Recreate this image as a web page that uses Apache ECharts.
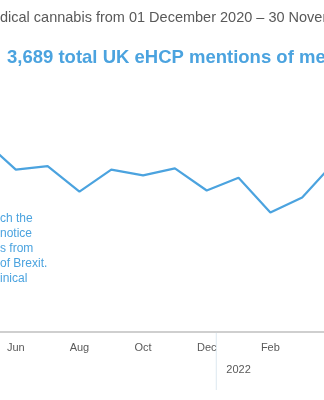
<!DOCTYPE html>
<html>
<head>
<meta charset="utf-8">
<script src="https://cdn.jsdelivr.net/npm/echarts@6/dist/echarts.min.js"></script>
<style>
  html, body { margin: 0; padding: 0; background: #ffffff; }
  #chart { width: 324px; height: 400px; }
</style>
</head>
<body>
<div id="chart"></div>
<script>
// Monthly UK eHCP mentions of medical cannabis (May 2021 – Apr 2022)
const months = ['May', 'Jun', 'Jul', 'Aug', 'Sep', 'Oct', 'Nov', 'Dec', 'Jan', 'Feb', 'Mar', 'Apr'];
const mentions = [165, 140, 143, 121, 140, 135, 141, 122, 133, 103, 116, 146];
const shownMonths = ['Jun', 'Aug', 'Oct', 'Dec', 'Feb'];
const yearLabel = '2022';
const yearStartIndex = 8;      // first month of 2022 in `months`
const yearBoundaryFrac = 0.3;  // divider sits this far from Dec towards Jan

const subtitle = 'dical cannabis from 01 December 2020 \u2013 30 November 2022';
const headline = '3,689 total UK eHCP mentions of medical cannabis';
const noteLines = ['ch the', 'notice', 's from', 'of Brexit.', 'inical'];

const BLUE = '#4ba3df';
const GREY_TEXT = '#595959';
const chart = echarts.init(document.getElementById('chart'), null, { renderer: 'canvas' });

chart.setOption({
  animation: false,
  grid: { left: -16, right: -10, top: 100, bottom: 68, containLabel: false, outerBoundsMode: 'none' },
  xAxis: {
    type: 'category',
    data: months,
    boundaryGap: false,
    axisLine: { lineStyle: { color: '#bfbfbf', width: 1.5 } },
    axisTick: { show: false },
    axisLabel: {
      interval: (i, v) => shownMonths.includes(v),
      color: GREY_TEXT,
      fontFamily: 'Liberation Sans',
      fontSize: 11,
      margin: 10
    }
  },
  yAxis: { type: 'value', min: 0, max: 200, show: false },
  series: [{
    type: 'line',
    data: mentions,
    symbol: 'none',
    lineStyle: { color: BLUE, width: 2.2 },
    clip: false
  }],
  graphic: [
    { id: 'subtitle', type: 'text', left: 0, top: 10, style: { text: subtitle, fill: GREY_TEXT, font: '14.5px "Liberation Sans"' } },
    { id: 'headline', type: 'text', left: 7, top: 48, style: { text: headline, fill: BLUE, font: 'bold 18.5px "Liberation Sans"' } },
    { id: 'note', type: 'text', left: 0, top: 211, style: { text: noteLines.join('\n'), fill: BLUE, font: '12px "Liberation Sans"', lineHeight: 15 } }
  ]
});

// Year divider and year label, placed from the axis scale
const decPos = chart.convertToPixel({ seriesIndex: 0 }, [yearStartIndex - 1, 0]);
const janPos = chart.convertToPixel({ seriesIndex: 0 }, [yearStartIndex, 0]);
const divX = decPos[0] + (janPos[0] - decPos[0]) * yearBoundaryFrac;
const axisY = decPos[1];
chart.setOption({
  graphic: [
    { id: 'yearDivider', type: 'line', shape: { x1: divX, y1: axisY + 1, x2: divX, y2: axisY + 58 }, style: { stroke: '#dce8f0', lineWidth: 1 } },
    { id: 'yearLabel', type: 'text', x: janPos[0], y: axisY + 38, style: { text: yearLabel, fill: GREY_TEXT, font: '11px "Liberation Sans"', textAlign: 'center', textVerticalAlign: 'middle' } }
  ]
});
</script>
</body>
</html>
